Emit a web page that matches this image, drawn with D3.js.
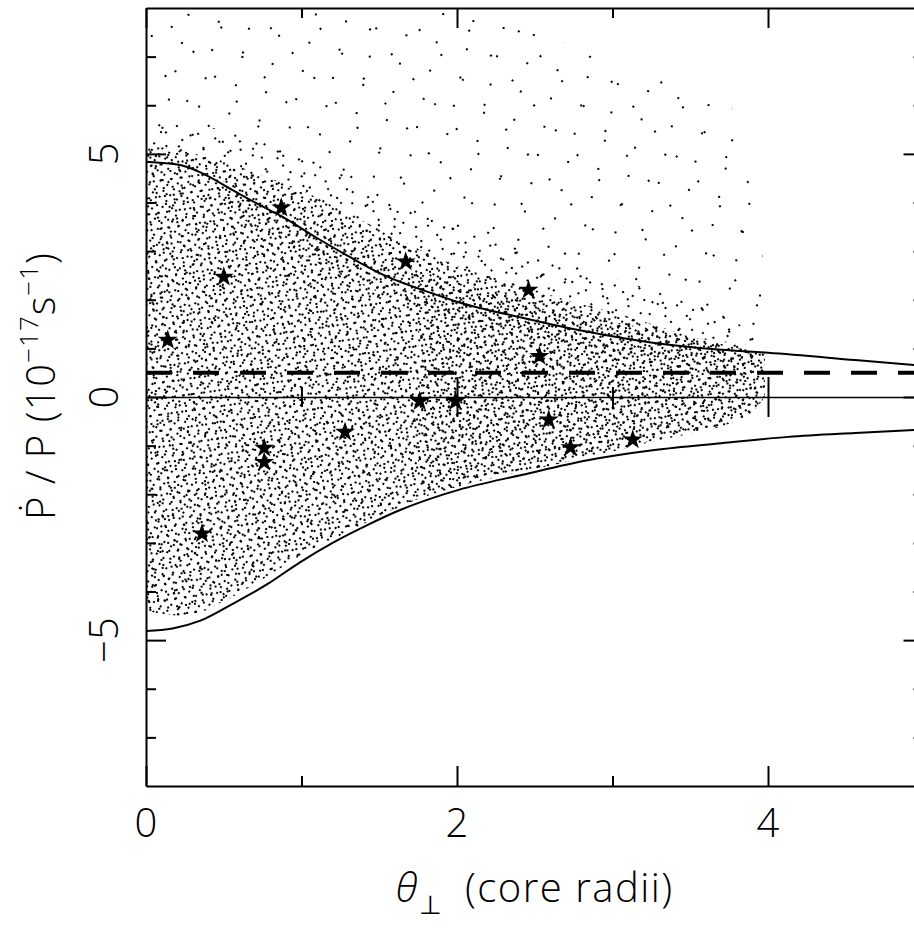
<!DOCTYPE html>
<html><head><meta charset="utf-8">
<script src="https://cdn.jsdelivr.net/npm/d3@7"></script>
<style>
html,body{margin:0;padding:0;background:#fff;overflow:hidden}
svg{display:block}
text{font-family:"Open Sans","Roboto","DejaVu Sans",sans-serif;font-weight:300;fill:#000}
</style></head><body>
<svg id="c" width="914" height="936"></svg>
<script>
// ---- axis ticks / labels ----
const xTickValues = [0, 2, 4];
const xTickLabels = ["0", "2", "4"];
const xMinorTicks = [1, 3, 5];
const yTickValues = [-5, 0, 5];
const yTickLabels = ["\u22125", "0", "5"];
const yMinorTicks = [-7, -6, -4, -3, -2, -1, 1, 2, 3, 4, 6, 7];

// ---- model curves (upper / lower envelopes) ----
const upperX = [0, 0.22, 0.35, 0.56, 0.73, 0.87, 1.10, 1.31, 1.52, 1.85, 2.01, 2.42, 2.84, 3.27, 3.70, 4.0, 4.56, 5.0];
const upperY = [4.84, 4.77, 4.62, 4.25, 3.95, 3.72, 3.27, 2.88, 2.52, 2.12, 1.95, 1.63, 1.34, 1.11, 0.97, 0.91, 0.76, 0.64];
const lowerX = [0, 0.17, 0.35, 0.56, 0.78, 0.99, 1.20, 1.42, 1.63, 1.85, 2.01, 2.42, 2.84, 3.27, 3.70, 4.13, 4.56, 5.0];
const lowerY = [-4.81, -4.76, -4.6, -4.25, -3.85, -3.4, -3.0, -2.64, -2.33, -2.07, -1.91, -1.60, -1.30, -1.09, -0.95, -0.82, -0.74, -0.67];

// ---- horizontal reference lines ----
const zeroLevel = 0;
const dashedLevel = 0.5;

// ---- observed pulsars (stars) ----
const starX = [0.14, 0.50, 0.87, 1.67, 2.46, 2.53, 0.36, 0.76, 0.76, 1.28, 1.76, 1.99, 2.59, 2.73, 3.13];
const starY = [1.17, 2.47, 3.89, 2.78, 2.20, 0.84, -2.81, -1.05, -1.34, -0.72, -0.09, -0.09, -0.47, -1.04, -0.88];

// ---- simulated cloud: envelopes ----
const cloudX      = [0, 0.25, 0.5, 0.75, 1.0, 1.25, 1.5, 1.75, 2.0, 2.25, 2.5, 2.75, 3.0, 3.25, 3.5, 3.75, 3.9, 3.98];
const cloudLow    = [-4.4, -4.5, -4.2, -3.75, -3.25, -2.85, -2.45, -2.1, -1.85, -1.65, -1.48, -1.3, -1.12, -0.92, -0.75, -0.55, -0.3, 0.0];
const coreHigh    = [5.2, 5.05, 4.85, 4.55, 4.25, 3.85, 3.45, 3.05, 2.7, 2.45, 2.2, 1.95, 1.75, 1.5, 1.25, 1.05, 0.95, 0.9];
const haloHigh    = [5.7, 5.6, 5.5, 5.3, 5.0, 4.6, 4.2, 3.85, 3.5, 3.2, 2.95, 2.7, 2.45, 2.2, 1.95, 1.6, 1.3, 1.0];
const outlierHigh = [8, 8, 8, 8, 8, 8, 8, 8, 7.9, 7.7, 7.5, 7.2, 6.9, 6.6, 6.4, 6.0, 4.5, 2.5];
const denseX    = [1.75, 2.0, 2.25, 2.5, 2.75, 3.0, 3.25, 3.5, 3.75, 3.9, 3.98];
const denseLow  = [-2.0, -1.8, -1.6, -1.45, -1.25, -1.1, -0.9, -0.72, -0.52, -0.3, 0.0];
const denseHigh = [2.6, 2.35, 2.15, 1.95, 1.75, 1.55, 1.4, 1.2, 1.05, 0.95, 0.9];
const ridgeX    = [0.5, 1.0, 1.5, 2.0, 2.5, 3.0, 3.5, 3.9];
const ridgeLow  = [3.9, 2.95, 2.15, 1.6, 1.25, 0.95, 0.7, 0.55];
const ridgeHigh = [4.45, 3.6, 2.8, 2.25, 1.85, 1.5, 1.25, 1.05];

const xLabel = "(core radii)";

// =====================================================
const x = d3.scaleLinear().domain([0, 5]).range([146, 923.5]);
const y = d3.scaleLinear().domain([-8, 8]).range([786, 8]);
const svg = d3.select('#c');
const defs = svg.append('defs');

defs.append('clipPath').attr('id', 'plot').append('rect')
  .attr('x', x(0)).attr('y', y(8)).attr('width', x(5) - x(0)).attr('height', y(-8) - y(8));

// stipple textures (style only): lattices of 2px dots at different spacings / angles
function lattice(id, w, h, angle) {
  const p = defs.append('pattern').attr('id', id).attr('patternUnits', 'userSpaceOnUse')
    .attr('width', w).attr('height', h).attr('patternTransform', `rotate(${angle})`);
  p.append('rect').attr('width', 2).attr('height', 2).attr('fill', '#000').attr('shape-rendering', 'crispEdges');
}
lattice('pOutA', 31, 29, 13);
lattice('pOutB', 37, 33, -41);
lattice('pHaloA', 17, 15, -21);
lattice('pHaloB', 19, 16, 47);
lattice('pCoreA', 8, 7, 33);
lattice('pCoreB', 9, 8, -8);
lattice('pDense', 10, 9, 51);
lattice('pRidge', 9, 9, 71);

const g = svg.append('g').attr('clip-path', 'url(#plot)');

function band(xs, lo, hi) {
  return xs.map((v, i) => ({ x: v, lo: lo[i], hi: hi[i] }));
}
const area = d3.area().x(d => x(d.x)).y0(d => y(d.lo)).y1(d => y(d.hi)).curve(d3.curveMonotoneX);

const bands = [
  [band(cloudX, cloudLow, outlierHigh), 'pOutA'],
  [band(cloudX, cloudLow, outlierHigh), 'pOutB'],
  [band(cloudX, cloudLow, haloHigh), 'pHaloA'],
  [band(cloudX, cloudLow, haloHigh), 'pHaloB'],
  [band(cloudX, cloudLow, coreHigh), 'pCoreA'],
  [band(cloudX, cloudLow, coreHigh), 'pCoreB'],
  [band(denseX, denseLow, denseHigh), 'pDense'],
  [band(ridgeX, ridgeLow, ridgeHigh), 'pRidge']
];
bands.forEach(([d, p]) => g.append('path').datum(d).attr('d', area).attr('fill', `url(#${p})`));

// model curves
const line = d3.line().x(d => x(d[0])).y(d => y(d[1])).curve(d3.curveMonotoneX);
g.append('path').datum(upperX.map((v, i) => [v, upperY[i]])).attr('d', line)
  .attr('fill', 'none').attr('stroke', '#000').attr('stroke-width', 2);
g.append('path').datum(lowerX.map((v, i) => [v, lowerY[i]])).attr('d', line)
  .attr('fill', 'none').attr('stroke', '#000').attr('stroke-width', 2);

// dashed line
g.append('line').attr('x1', x(0)).attr('x2', x(5)).attr('y1', y(dashedLevel)).attr('y2', y(dashedLevel))
  .attr('stroke', '#000').attr('stroke-width', 4).attr('stroke-dasharray', '26 21');

// zero axis with crossing ticks
function styleAxis(sel) {
  sel.selectAll('path,line').attr('stroke', '#000').attr('stroke-width', 2);
  sel.selectAll('text').remove();
}
const zg = g.append('g').attr('transform', `translate(0,${y(zeroLevel)})`);
zg.append('g').call(d3.axisBottom(x).tickValues([2, 4]).tickSize(20).tickSizeOuter(0).tickFormat('')).call(styleAxis)
  .select('.domain').attr('stroke-width', 1.6);
zg.append('g').call(d3.axisTop(x).tickValues([2, 4]).tickSize(20).tickSizeOuter(0).tickFormat('')).call(styleAxis)
  .select('.domain').remove();
zg.append('g').call(d3.axisBottom(x).tickValues([1, 3]).tickSize(10).tickSizeOuter(0).tickFormat('')).call(styleAxis)
  .select('.domain').remove();
zg.append('g').call(d3.axisTop(x).tickValues([1, 3]).tickSize(10).tickSizeOuter(0).tickFormat('')).call(styleAxis)
  .select('.domain').remove();

// stars
g.selectAll('path.star').data(starX.map((v, i) => [v, starY[i]])).join('path')
  .attr('class', 'star')
  .attr('transform', d => `translate(${x(d[0])},${y(d[1])})`)
  .attr('d', d3.symbol(d3.symbolStar, 125))
  .attr('fill', '#000');

// frame axes
const frame = svg.append('g');
function addAxis(axisFn, scale, tr, major, minor) {
  frame.append('g').attr('transform', tr)
    .call(axisFn(scale).tickValues(major).tickSize(-20).tickSizeOuter(0).tickFormat('')).call(styleAxis);
  frame.append('g').attr('transform', tr)
    .call(axisFn(scale).tickValues(minor).tickSize(-10).tickSizeOuter(0).tickFormat('')).call(styleAxis)
    .select('.domain').remove();
}
addAxis(d3.axisBottom, x, `translate(0,${y(-8)})`, xTickValues, xMinorTicks);
addAxis(d3.axisTop, x, `translate(0,${y(8)})`, xTickValues, xMinorTicks);
addAxis(d3.axisLeft, y, `translate(${x(0)},0)`, yTickValues, yMinorTicks);
addAxis(d3.axisRight, y, `translate(${x(5)},0)`, yTickValues, yMinorTicks);

// tick labels
svg.selectAll('text.xt').data(xTickValues).join('text').attr('class', 'xt')
  .attr('x', d => x(d)).attr('y', 837).attr('text-anchor', 'middle')
  .attr('font-size', 40).text((d, i) => xTickLabels[i]);
svg.selectAll('text.yt').data(yTickValues).join('text').attr('class', 'yt')
  .attr('transform', d => `translate(104,${y(d)}) rotate(-90)`)
  .attr('dy', '0.35em').attr('text-anchor', 'middle')
  .attr('font-size', 40).text((d, i) => yTickLabels[i]);

// x label
const xl = svg.append('text').attr('x', (x(0) + x(5)) / 2).attr('y', 902)
  .attr('text-anchor', 'middle').attr('font-size', 40).style('letter-spacing', '1.5px');
xl.append('tspan').attr('font-style', 'italic').text('\u03B8');
xl.append('tspan').attr('font-size', 26).attr('dy', 12).text('\u22A5');
xl.append('tspan').attr('dy', -12).text('\u2002' + xLabel);

// y label
const yl = svg.append('text').attr('transform', `translate(55,386) rotate(-90)`)
  .attr('text-anchor', 'middle').attr('font-size', 40).style('letter-spacing', '1px');
yl.append('tspan').text('\u1E56 / P (10');
yl.append('tspan').attr('font-size', 26).attr('dy', -17).text('\u221217');
yl.append('tspan').attr('dy', 17).text('s');
yl.append('tspan').attr('font-size', 26).attr('dy', -17).text('\u22121');
yl.append('tspan').attr('dy', 17).text(')');
</script>
</body></html>
